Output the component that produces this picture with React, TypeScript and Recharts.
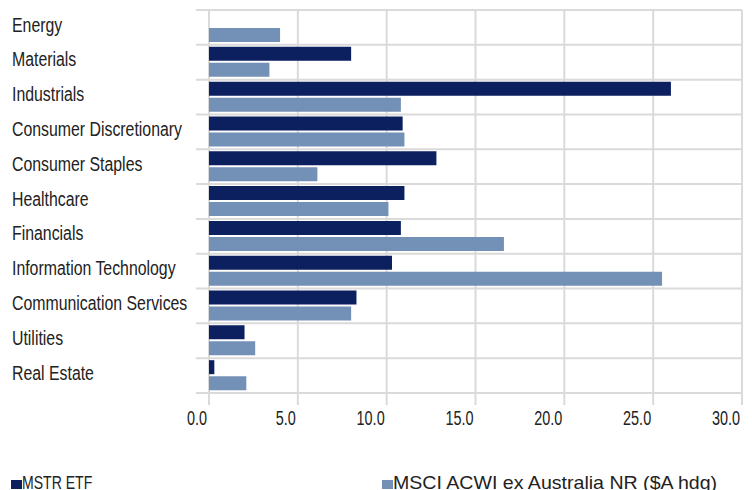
import { BarChart, Bar, XAxis, YAxis, CartesianGrid, Legend } from 'recharts';

const sectors = [
  'Energy',
  'Materials',
  'Industrials',
  'Consumer Discretionary',
  'Consumer Staples',
  'Healthcare',
  'Financials',
  'Information Technology',
  'Communication Services',
  'Utilities',
  'Real Estate',
];
const mstrEtf = [0, 8.0, 26.0, 10.9, 12.8, 11.0, 10.8, 10.3, 8.3, 2.0, 0.3];
const msciAcwi = [4.0, 3.4, 10.8, 11.0, 6.1, 10.1, 16.6, 25.5, 8.0, 2.6, 2.1];
const xTicks = [0, 5, 10, 15, 20, 25, 30];

const seriesNames = ['MSTR ETF', 'MSCI ACWI ex Australia NR ($A hdg)'];
const colors = ['#0c1f5f', '#7390b7'];

const data = sectors.map((name, i) => ({ name, mstr: mstrEtf[i], msci: msciAcwi[i] }));

// no condensed font installed, so squeeze Liberation Sans horizontally
const FONT = '"Liberation Sans", Arial, sans-serif';
const TEXT = '#222222';
const GRID = '#dadada';

const CategoryTick = (props: any) => {
  const { y, payload } = props;
  return (
    <text
      transform={`translate(12,${y}) scale(0.835,1.03)`}
      x={0}
      y={0}
      dy={4}
      textAnchor="start"
      fontFamily={FONT}
      fontSize={19}
      fill={TEXT}
    >
      {payload.value}
    </text>
  );
};

const ValueTick = (props: any) => {
  const { x, y, payload } = props;
  return (
    <text
      transform={`translate(${x - 2},${y}) scale(0.76,1.05)`}
      x={0}
      y={0}
      dy={17}
      textAnchor="end"
      fontFamily={FONT}
      fontSize={19}
      fill={TEXT}
    >
      {Number(payload.value).toFixed(1)}
    </text>
  );
};

const legendSqueeze = [0.74, 1.03];

const renderLegend = () => (
  <div style={{ display: 'flex', paddingLeft: 11, fontFamily: FONT, fontSize: 19, color: TEXT, lineHeight: '19px' }}>
    {seriesNames.map((name, i) => (
      <div key={name} style={{ width: 376, display: 'flex', alignItems: 'baseline', whiteSpace: 'nowrap' }}>
        <span style={{ display: 'inline-block', width: 11, height: 9, marginBottom: 3, background: colors[i] }} />
        <span style={{ display: 'inline-block', transform: `scaleX(${legendSqueeze[i]})`, transformOrigin: 'left' }}>
          {name}
        </span>
      </div>
    ))}
  </div>
);

export default function App() {
  return (
    <div style={{ position: 'absolute', left: 0, top: 0 }}>
      <BarChart
        width={752}
        height={490}
        data={data}
        layout="vertical"
        margin={{ top: 10, right: 10, left: 0, bottom: 67 }}
        barSize={14}
        barGap={2}
      >
        <CartesianGrid
          stroke={GRID}
          strokeWidth={2}
          horizontalCoordinatesGenerator={({ offset }: any) =>
            sectors.map((_, i) => offset.top + (i * offset.height) / sectors.length).concat(offset.top + offset.height)
          }
          horizontal={(p: any) => (
            <line key={p.key} x1={p.x1 - 13} y1={p.y1} x2={p.x2} y2={p.y2} stroke={GRID} strokeWidth={2} />
          )}
        />
        <XAxis
          type="number"
          domain={[0, 30]}
          ticks={xTicks}
          axisLine={false}
          tickLine={{ stroke: GRID, strokeWidth: 2 }}
          tickSize={12}
          tickMargin={2}
          height={30}
          tick={<ValueTick />}
        />
        <YAxis
          type="category"
          dataKey="name"
          width={209}
          axisLine={false}
          tickLine={false}
          interval={0}
          tick={<CategoryTick />}
        />
        <Legend
          layout="horizontal"
          verticalAlign="middle"
          align="center"
          content={renderLegend}
          wrapperStyle={{ position: 'absolute', top: 473, left: 0, width: 752 }}
        />
        <Bar dataKey="mstr" name={seriesNames[0]} fill={colors[0]} isAnimationActive={false} />
        <Bar dataKey="msci" name={seriesNames[1]} fill={colors[1]} isAnimationActive={false} />
      </BarChart>
    </div>
  );
}
